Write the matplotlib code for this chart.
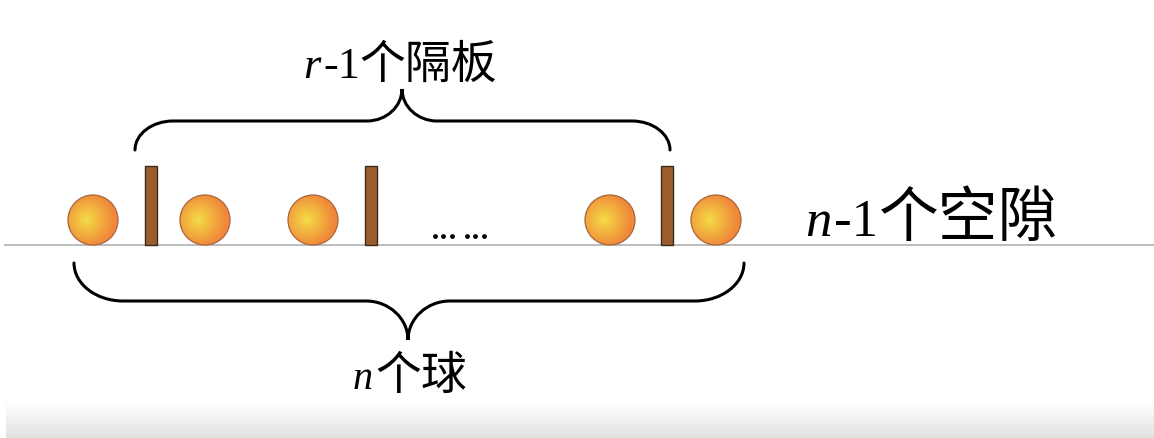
import numpy as np
import matplotlib
matplotlib.use("Agg")
import matplotlib.pyplot as plt
from matplotlib.patches import Circle, Rectangle, PathPatch
from matplotlib.path import Path
from matplotlib.colors import to_rgb

# === DATA (pixel units of the picture) ===
ball_x = [93, 205, 313, 610, 716]
board_x = [151, 371, 667]
dots_x = [435, 443, 452, 467, 475, 484]
top_label = [("r", "italic"), ("-1", "serif"), ("个隔板", "cjk")]
right_label = [("n", "italic"), ("-1", "serif"), ("个空隙", "cjk")]
bottom_label = [("n", "italic"), ("个球", "cjk")]

# === STYLE ===
W, H = 1154, 439
ground_y = 246
ball_r = 25
board_w, board_h = 12, 79
ball_core = to_rgb("#f4dc46")
ball_edge = to_rgb("#f0883a")

fig = plt.figure(figsize=(W / 100, H / 100), dpi=100)
ax = fig.add_axes([0, 0, 1, 1])
ax.set_xlim(0, W)
ax.set_ylim(H, 0)
ax.axis("off")

# bottom grey fade
fade = np.linspace(0, 1, 50)[:, None] * np.ones((1, 2))
fade_rgb = np.ones((50, 2, 3)) - fade[..., None] * (1 - np.array(to_rgb("#e2e2e2")))
ax.imshow(fade_rgb, extent=(6, W, H, 402), origin="upper", aspect="auto", zorder=0)

# ground line
ax.plot([5, W], [ground_y, ground_y], color="#b8b8b8", lw=1.3, zorder=1)

# balls with radial gradient
n = 80
gx, gy = np.meshgrid(np.linspace(-1, 1, n), np.linspace(-1, 1, n))
for x in ball_x:
    cy = ground_y - ball_r
    t = np.clip(np.hypot(gx + 0.25, gy + 0.02) / 1.1, 0, 1) ** 1.0
    img = (1 - t)[..., None] * np.array(ball_core) + t[..., None] * np.array(ball_edge)
    im = ax.imshow(img, extent=(x - ball_r, x + ball_r, cy + ball_r, cy - ball_r),
                   origin="upper", zorder=2, interpolation="bilinear")
    c = Circle((x, cy), ball_r, facecolor="none", edgecolor="#a8653a", lw=0.9, zorder=3)
    ax.add_patch(c)
    im.set_clip_path(c)

# boards
for x in board_x:
    ax.add_patch(Rectangle((x - board_w / 2, ground_y - board_h), board_w, board_h,
                           facecolor="#9a5e2e", edgecolor="#3b2a1c", lw=1.0, zorder=3))

# dots
ax.scatter(dots_x, [237] * len(dots_x), s=6, color="black", zorder=3)


def brace(x0, x1, y_end, y_line, x_tip, y_tip, corner, half):
    k = 0.55
    verts = [
        (x0, y_end),
        (x0, y_end + (y_line - y_end) * k), (x0 + corner * (1 - k), y_line), (x0 + corner, y_line),
        (x_tip - half, y_line),
        (x_tip - half * (1 - k), y_line), (x_tip, y_line + (y_tip - y_line) * (1 - k)), (x_tip, y_tip),
        (x_tip, y_line + (y_tip - y_line) * (1 - k)), (x_tip + half * (1 - k), y_line), (x_tip + half, y_line),
        (x1 - corner, y_line),
        (x1 - corner * (1 - k), y_line), (x1, y_end + (y_line - y_end) * k), (x1, y_end),
    ]
    codes = [Path.MOVETO, Path.CURVE4, Path.CURVE4, Path.CURVE4, Path.LINETO,
             Path.CURVE4, Path.CURVE4, Path.CURVE4, Path.CURVE4, Path.CURVE4, Path.CURVE4,
             Path.LINETO, Path.CURVE4, Path.CURVE4, Path.CURVE4]
    ax.add_patch(PathPatch(Path(verts, codes), facecolor="none", edgecolor="black",
                           lw=2.2, capstyle="round", zorder=3))


brace(135, 670, 151, 122, 402, 90, 38, 35)
brace(74, 744, 264, 302, 408, 341, 49, 42)

fonts = {
    "italic": dict(family="Liberation Serif", style="italic"),
    "serif": dict(family="Liberation Serif"),
    "cjk": dict(family=["Noto Sans CJK SC", "DejaVu Sans"]),
}


def label(pieces, x_left, y_base, size_latin, size_cjk):
    renderer = fig.canvas.get_renderer()
    x = x_left
    for txt, kind in pieces:
        size = size_cjk if kind == "cjk" else size_latin
        t = ax.text(x, y_base, txt, fontsize=size, va="baseline", ha="left",
                    color="black", zorder=4, **fonts[kind])
        bb = t.get_window_extent(renderer)
        x += bb.width  # 1 px per data unit
        if kind == "italic":
            x += size * 0.08


label(top_label, 303, 78, 32, 33)
label(right_label, 805, 236, 38, 43)
label(bottom_label, 353, 389, 29, 33)

fig.savefig("out.png", dpi=100)
